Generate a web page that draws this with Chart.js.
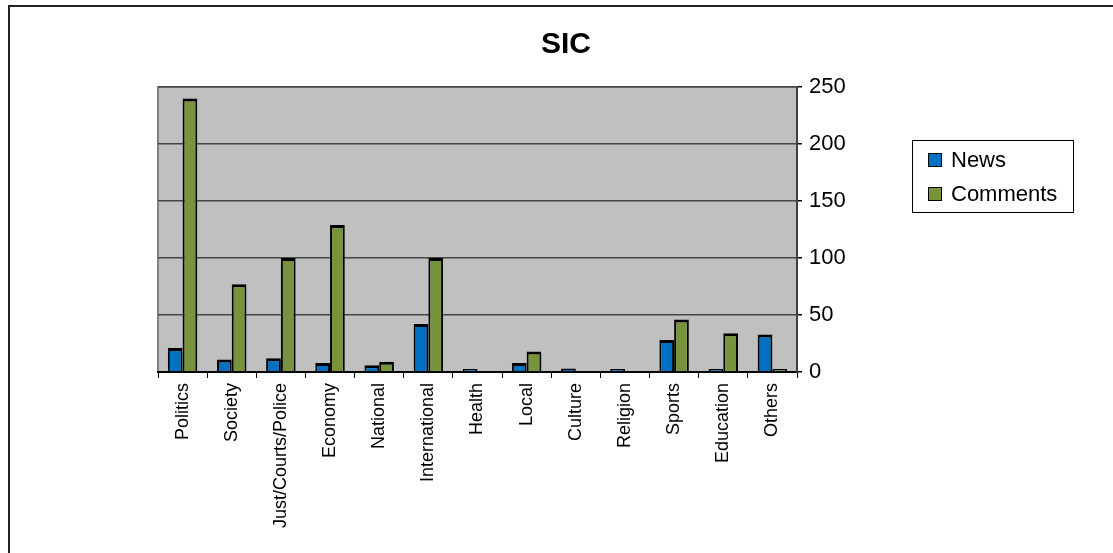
<!DOCTYPE html>
<html>
<head>
<meta charset="utf-8">
<script src="https://cdn.jsdelivr.net/npm/chart.js@4.4.1/dist/chart.umd.min.js"></script>
<style>
  html, body { margin: 0; padding: 0; background: #fff; overflow: hidden; }
  #wrap { position: relative; width: 1113px; height: 553px; }
  #frame { position: absolute; left: 8px; top: 5px; width: 1200px; height: 700px;
           border-left: 2px solid #222; border-top: 2px solid #222; }
  canvas { position: absolute; left: 0; top: 0; }
</style>
</head>
<body>
<div id="wrap">
  <div id="frame"></div>
  <canvas id="c" width="1113" height="553"></canvas>
</div>
<script>
const chartTitle = "SIC";
const categories = ["Politics", "Society", "Just/Courts/Police", "Economy", "National",
  "International", "Health", "Local", "Culture", "Religion", "Sports", "Education", "Others"];
const newsValues     = [21, 11, 12, 8, 6, 42, 1, 8, 3, 1, 28, 1, 33];
const commentsValues = [240, 77, 100, 129, 9, 100, 0, 18, 0, 0, 46, 34, 1];
const seriesNames = ["News", "Comments"];
const seriesColors = ["#0070C0", "#77933C"];
const yTicks = [0, 50, 100, 150, 200, 250];

const FONT = "'Liberation Sans', Arial, sans-serif";

const plotBg = {
  id: 'plotBg',
  beforeDraw(chart) {
    const { ctx, chartArea: a } = chart;
    ctx.save();
    ctx.fillStyle = '#C0C0C0';
    ctx.fillRect(a.left, a.top, a.right - a.left, a.bottom - a.top);
    ctx.strokeStyle = '#808080';
    ctx.lineWidth = 2;
    ctx.beginPath();
    ctx.moveTo(a.left, a.bottom);
    ctx.lineTo(a.left, a.top);
    ctx.lineTo(a.right, a.top);
    ctx.stroke();
    ctx.restore();
  },
  afterDraw(chart) {
    const ctx = chart.ctx;
    ctx.save();
    // title
    ctx.fillStyle = '#000';
    ctx.font = "bold 30px " + FONT;
    ctx.textAlign = 'center';
    ctx.textBaseline = 'middle';
    ctx.fillText(chartTitle, 566, 45);
    // legend
    ctx.lineWidth = 1;
    ctx.strokeStyle = '#000';
    ctx.fillStyle = '#fff';
    ctx.fillRect(912, 140, 162, 72);
    ctx.strokeRect(912.5, 140.5, 161, 72);
    ctx.font = "22px " + FONT;
    ctx.textAlign = 'left';
    chart.data.datasets.forEach((ds, i) => {
      const cy = 160 + i * 34;
      ctx.fillStyle = seriesColors[i];
      ctx.fillRect(928, cy - 7, 14, 14);
      ctx.strokeStyle = '#000';
      ctx.strokeRect(928.5, cy - 6.5, 13, 13);
      ctx.fillStyle = '#000';
      ctx.fillText(ds.label, 951, cy + 1);
    });
    ctx.restore();
  }
};

function makeDataset(i, values) {
  return {
    label: seriesNames[i],
    data: values,
    backgroundColor: (c) => (c.raw === 0 ? 'rgba(0,0,0,0)' : seriesColors[i]),
    borderColor: (c) => (c.raw === 0 ? 'rgba(0,0,0,0)' : '#000'),
    borderWidth: { top: 3, left: 2, right: 2, bottom: 0 },
    minBarLength: 3,
    categoryPercentage: 0.6,
    barPercentage: 1.0
  };
}

new Chart(document.getElementById('c'), {
  type: 'bar',
  data: {
    labels: categories,
    datasets: [makeDataset(0, newsValues), makeDataset(1, commentsValues)]
  },
  options: {
    responsive: false,
    animation: false,
    devicePixelRatio: 1,
    layout: { padding: { left: 158, top: 87, right: 256, bottom: 11 } },
    plugins: { legend: { display: false }, title: { display: false }, tooltip: { enabled: false } },
    scales: {
      x: {
        afterFit(s) { s.height = 170; },
        grid: { offset: true, drawOnChartArea: false, drawTicks: true, tickLength: 6, color: '#000', lineWidth: 1 },
        border: { display: true, color: '#000', width: 2 },
        ticks: { minRotation: 90, maxRotation: 90, autoSkip: false, padding: 5, color: '#000',
                 font: { family: FONT, size: 18 } }
      },
      y: {
        position: 'right',
        min: 0, max: 250,
        afterFit(s) { s.width = 60; },
        afterBuildTicks(s) { s.ticks = yTicks.map(v => ({ value: v })); },
        grid: { color: '#454545', lineWidth: 1.5, drawTicks: true, tickLength: 5, tickColor: '#000' },
        border: { display: true, color: '#404040', width: 2 },
        ticks: { stepSize: 50, padding: 7, color: '#000', font: { family: FONT, size: 22 } }
      }
    }
  },
  plugins: [plotBg]
});
</script>
</body>
</html>
